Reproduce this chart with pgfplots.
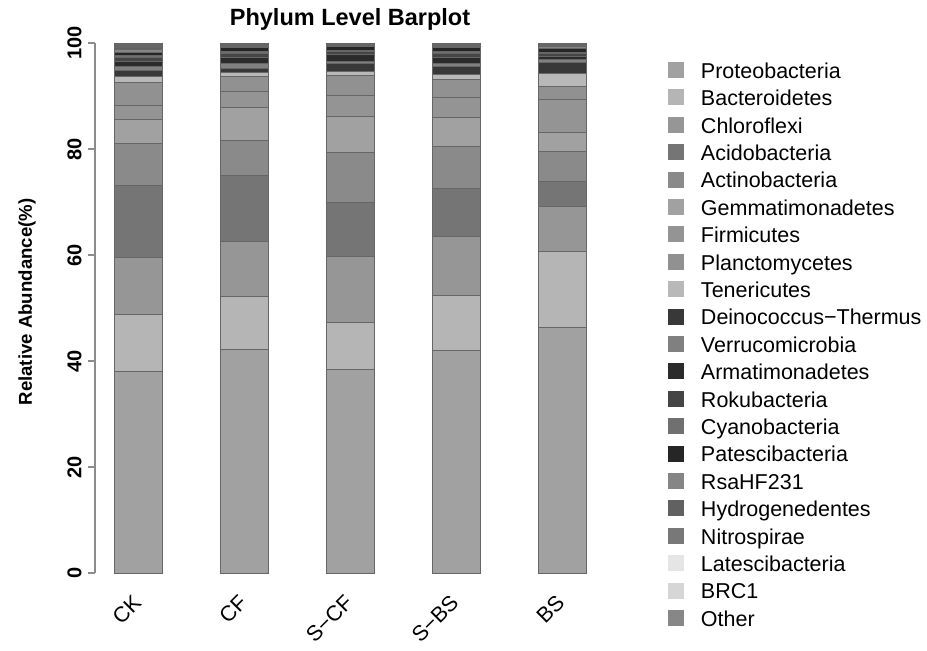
\documentclass[border=0pt]{standalone}
\usepackage{pgfplots}
\pgfplotsset{compat=1.18}
\usepackage{pgfplotstable}
\usepackage{fontspec}
\setmainfont{Liberation Sans}
\definecolor{axgray}{gray}{0.55}
\definecolor{edge}{gray}{0.40}
\definecolor{c01}{gray}{0.63}
\definecolor{c02}{gray}{0.71}
\definecolor{c03}{gray}{0.59}
\definecolor{c04}{gray}{0.46}
\definecolor{c05}{gray}{0.54}
\definecolor{c06}{gray}{0.63}
\definecolor{c07}{gray}{0.58}
\definecolor{c08}{gray}{0.57}
\definecolor{c09}{gray}{0.72}
\definecolor{c10}{gray}{0.22}
\definecolor{c11}{gray}{0.50}
\definecolor{c12}{gray}{0.17}
\definecolor{c13}{gray}{0.27}
\definecolor{c14}{gray}{0.44}
\definecolor{c15}{gray}{0.15}
\definecolor{c16}{gray}{0.52}
\definecolor{c17}{gray}{0.38}
\definecolor{c18}{gray}{0.47}
\definecolor{c19}{gray}{0.90}
\definecolor{c20}{gray}{0.84}
\definecolor{c21}{gray}{0.53}
\pgfplotstableread{
x Prot Bact Chlo Acid Acti Gemm Firm Plan Tene Dein Verr Arma Roku Cyan Pate Rsa Hydr Nitr Late BRC Oth
0 38.1 10.7 10.7 13.7 7.8 4.5 2.7 4.3 1.1 1.2 0.8 0.9 0.7 0.5 0.6 0.4 0.4 0.3 0.2 0.1 0.3
1 42.2 10.0 10.3 12.5 6.6 6.2 3.0 2.9 0.8 0.7 0.9 1.2 0.8 0.3 0.8 0.2 0.2 0.1 0.05 0.05 0.2
2 38.4 8.8 12.5 10.3 9.3 6.9 3.9 3.8 0.8 1.4 0.4 1.3 0.6 0.2 0.8 0.2 0.1 0.1 0.05 0.05 0.1
3 41.9 10.5 11.0 9.1 8.0 5.4 3.9 3.3 0.9 1.6 0.5 1.2 0.8 0.3 0.8 0.2 0.2 0.1 0.05 0.05 0.2
4 46.4 14.2 8.5 4.7 5.8 3.6 6.1 2.4 2.5 2.2 0.4 0.7 0.6 0.2 0.7 0.3 0.2 0.2 0.1 0.1 0.1
}\data
\begin{document}
\begin{tikzpicture}
\path[use as bounding box] (0,0) rectangle (463.5pt,325pt);
\begin{axis}[
  at={(47.5pt,38.5pt)}, anchor=south west,
  scale only axis, width=252.5pt, height=265pt,
  xmin=-0.416, xmax=4.359, ymin=0, ymax=100,
  ybar stacked, bar width=24pt,
  axis lines=left,
  axis line style={-, draw=axgray, line width=0.6pt},
  x axis line style={draw=none},
  xtick={0,1,2,3,4},
  xticklabels={CK,CF,S−CF,S−BS,BS},
  xtick style={draw=none},
  ytick={0,20,40,60,80,100},
  ytick pos=left,
  tick align=outside,
  major tick length=3.5pt,
  ytick style={draw=axgray, line width=0.6pt},
  /pgf/number format/assume math mode=true,
  yticklabel style={rotate=90, anchor=south, inner sep=0pt, font=\bfseries\fontsize{10}{12}\selectfont},
  yticklabel shift=3pt,
  xticklabel style={xshift=-3.5pt, yshift=-6.5pt, rotate=45, anchor=north east, inner sep=0pt, font=\fontsize{10.75}{13}\selectfont},
  title={Phylum Level Barplot},
  title style={at={(axis description cs:0.505,1.011)}, anchor=base, inner sep=0pt, font=\bfseries\fontsize{11.75}{14}\selectfont},
  ylabel={Relative Abundance(\%)},
  every axis y label/.style={at={(axis description cs:-0.1248,0.5113)}, rotate=90, anchor=base, inner sep=0pt, font=\bfseries\fontsize{9.3}{11}\selectfont},
  every axis plot post/.append style={draw=edge, line width=0.5pt,
    legend image code/.code={\fill[##1, draw=none] (0pt,-4pt) rectangle (8pt,4pt);}},
  legend cell align=left,
  legend style={at={(axis description cs:1.13465,0.97491)}, anchor=north west,
    draw=none, fill=none, inner sep=0pt, outer sep=0pt, row sep=0pt, column sep=8.5pt,
    font=\fontsize{10.75}{13}\selectfont,
    nodes={inner sep=0pt, text height=11pt, text depth=2.7pt}},
]
\addplot[fill=c01] table[x=x,y=Prot]{\data};
\addplot[fill=c02] table[x=x,y=Bact]{\data};
\addplot[fill=c03] table[x=x,y=Chlo]{\data};
\addplot[fill=c04] table[x=x,y=Acid]{\data};
\addplot[fill=c05] table[x=x,y=Acti]{\data};
\addplot[fill=c06] table[x=x,y=Gemm]{\data};
\addplot[fill=c07] table[x=x,y=Firm]{\data};
\addplot[fill=c08] table[x=x,y=Plan]{\data};
\addplot[fill=c09] table[x=x,y=Tene]{\data};
\addplot[fill=c10] table[x=x,y=Dein]{\data};
\addplot[fill=c11] table[x=x,y=Verr]{\data};
\addplot[fill=c12] table[x=x,y=Arma]{\data};
\addplot[fill=c13] table[x=x,y=Roku]{\data};
\addplot[fill=c14] table[x=x,y=Cyan]{\data};
\addplot[fill=c15] table[x=x,y=Pate]{\data};
\addplot[fill=c16] table[x=x,y=Rsa]{\data};
\addplot[fill=c17] table[x=x,y=Hydr]{\data};
\addplot[fill=c18] table[x=x,y=Nitr]{\data};
\addplot[fill=c19] table[x=x,y=Late]{\data};
\addplot[fill=c20] table[x=x,y=BRC]{\data};
\addplot[fill=c21] table[x=x,y=Oth]{\data};
\legend{Proteobacteria,Bacteroidetes,Chloroflexi,Acidobacteria,Actinobacteria,Gemmatimonadetes,Firmicutes,Planctomycetes,Tenericutes,Deinococcus−Thermus,Verrucomicrobia,Armatimonadetes,Rokubacteria,Cyanobacteria,Patescibacteria,RsaHF231,Hydrogenedentes,Nitrospirae,Latescibacteria,BRC1,Other}
\end{axis}
\end{tikzpicture}
\end{document}
